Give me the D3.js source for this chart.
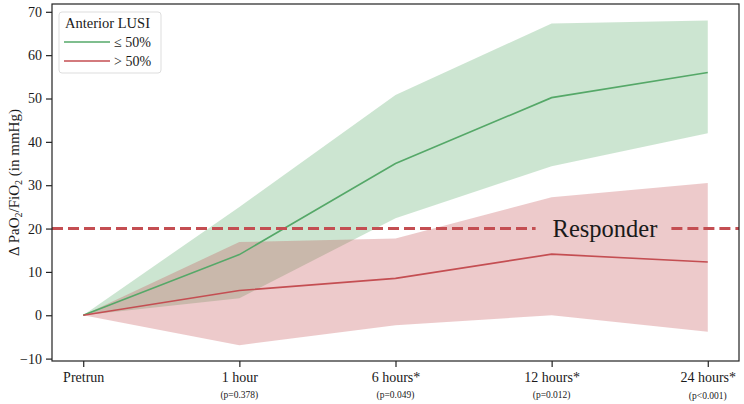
<!DOCTYPE html>
<html><head><meta charset="utf-8">
<script src="https://cdn.jsdelivr.net/npm/d3@7"></script>
<style>body{margin:0;background:#fff}svg{display:block}text{font-family:"Liberation Serif","Times New Roman",serif;fill:#1a1a1a}</style>
</head><body><svg id="c" width="744" height="404"></svg>
<script>
const categories = ["Pretrun","1 hour","6 hours*","12 hours*","24 hours*"];
const pValues = ["","(p=0.378)","(p=0.049)","(p=0.012)","(p<0.001)"];
const greenMean  = [0, 14.0, 35.0, 50.2, 56.0];
const greenUpper = [0, 25.0, 50.8, 67.3, 68.0];
const greenLower = [0, 3.9, 22.4, 34.4, 42.0];
const redMean  = [0, 5.7, 8.5, 14.1, 12.3];
const redUpper = [0, 16.9, 17.7, 27.2, 30.5];
const redLower = [0, -6.9, -2.3, 0.0, -3.8];
const yTicks = [-10,0,10,20,30,40,50,60,70];
const responderValue = 20;

const svg = d3.select("#c");
const L=52, R=739, T=4, B=361;
const x = d3.scalePoint().domain(categories).range([L,R]).padding(0.2);
const y = d3.scaleLinear().domain([-10.55,71.8]).range([B,T]);

const area = (lo,hi)=>d3.area().x((d,i)=>x(categories[i])).y0((d,i)=>y(lo[i])).y1((d,i)=>y(hi[i]));
const line = d3.line().x((d,i)=>x(categories[i])).y(d=>y(d));

const G="#55a868", Rd="#c44e52";
svg.append("path").datum(greenMean).attr("d",area(greenLower,greenUpper)).attr("fill",G).attr("fill-opacity",0.3);
svg.append("path").datum(redMean).attr("d",area(redLower,redUpper)).attr("fill",Rd).attr("fill-opacity",0.3);
svg.append("path").datum(greenMean).attr("d",line).attr("fill","none").attr("stroke",G).attr("stroke-width",1.6);
svg.append("path").datum(redMean).attr("d",line).attr("fill","none").attr("stroke",Rd).attr("stroke-width",1.6);

// responder line with text gap
const yr = y(responderValue);
const rt = svg.append("text").attr("x",605).attr("y",yr).attr("dy","0.33em")
  .attr("text-anchor","middle").style("font-size","24.5px").text("Responder");
const bb = rt.node().getBBox();
[[L,bb.x-17],[bb.x+bb.width+14,R]].forEach(([a,b])=>{
  svg.append("line").attr("x1",a).attr("x2",b).attr("y1",yr).attr("y2",yr)
    .attr("stroke",Rd).attr("stroke-width",3).attr("stroke-dasharray","11,5");
});
rt.raise();

// axes
const ya = svg.append("g").attr("transform",`translate(${L},0)`)
  .call(d3.axisLeft(y).tickValues(yTicks).tickSize(6).tickPadding(4).tickFormat(d=>d<0?"\u2212"+Math.abs(d):d));
const xa = svg.append("g").attr("transform",`translate(0,${B})`)
  .call(d3.axisBottom(x).tickSize(6).tickPadding(5));
[ya,xa].forEach(g=>{g.attr("font-family",null).attr("font-size",null);
  g.select(".domain").remove();g.selectAll("line").attr("stroke","#222").attr("stroke-width",1.2);
  g.selectAll("text").style("font-size","14px").attr("fill","#1a1a1a");});
svg.append("rect").attr("x",L).attr("y",T).attr("width",R-L).attr("height",B-T).attr("fill","none").attr("stroke","#222").attr("stroke-width",1.2);

svg.append("g").selectAll("text").data(pValues).join("text")
  .attr("x",(d,i)=>x(categories[i])).attr("y",(d,i)=>i===4?399:398).attr("text-anchor","middle")
  .style("font-size","9.5px").text(d=>d);

svg.append("text").attr("transform",`translate(19,${(T+B)/2}) rotate(-90)`).attr("text-anchor","middle")
  .style("font-size","15px").html('\u0394 PaO<tspan font-size="10" dy="3">2</tspan><tspan dy="-3">/FiO</tspan><tspan font-size="10" dy="3">2</tspan><tspan dy="-3"> (in mmHg)</tspan>');

// legend
const lg = svg.append("g");
lg.append("rect").attr("x",59).attr("y",12).attr("width",102).attr("height",61).attr("rx",3)
  .attr("fill","#fff").attr("fill-opacity",0.8).attr("stroke","#ddd");
lg.append("text").attr("x",65).attr("y",28).style("font-size","14.5px").text("Anterior LUSI");
[["\u2264 50%",G],["> 50%",Rd]].forEach(([t,c],i)=>{
  const yy=42+i*19;
  lg.append("line").attr("x1",64).attr("x2",110).attr("y1",yy).attr("y2",yy).attr("stroke",c).attr("stroke-width",1.6);
  lg.append("text").attr("x",114).attr("y",yy).attr("dy","0.35em").style("font-size","14px").text(t);
});
</script></body></html>
